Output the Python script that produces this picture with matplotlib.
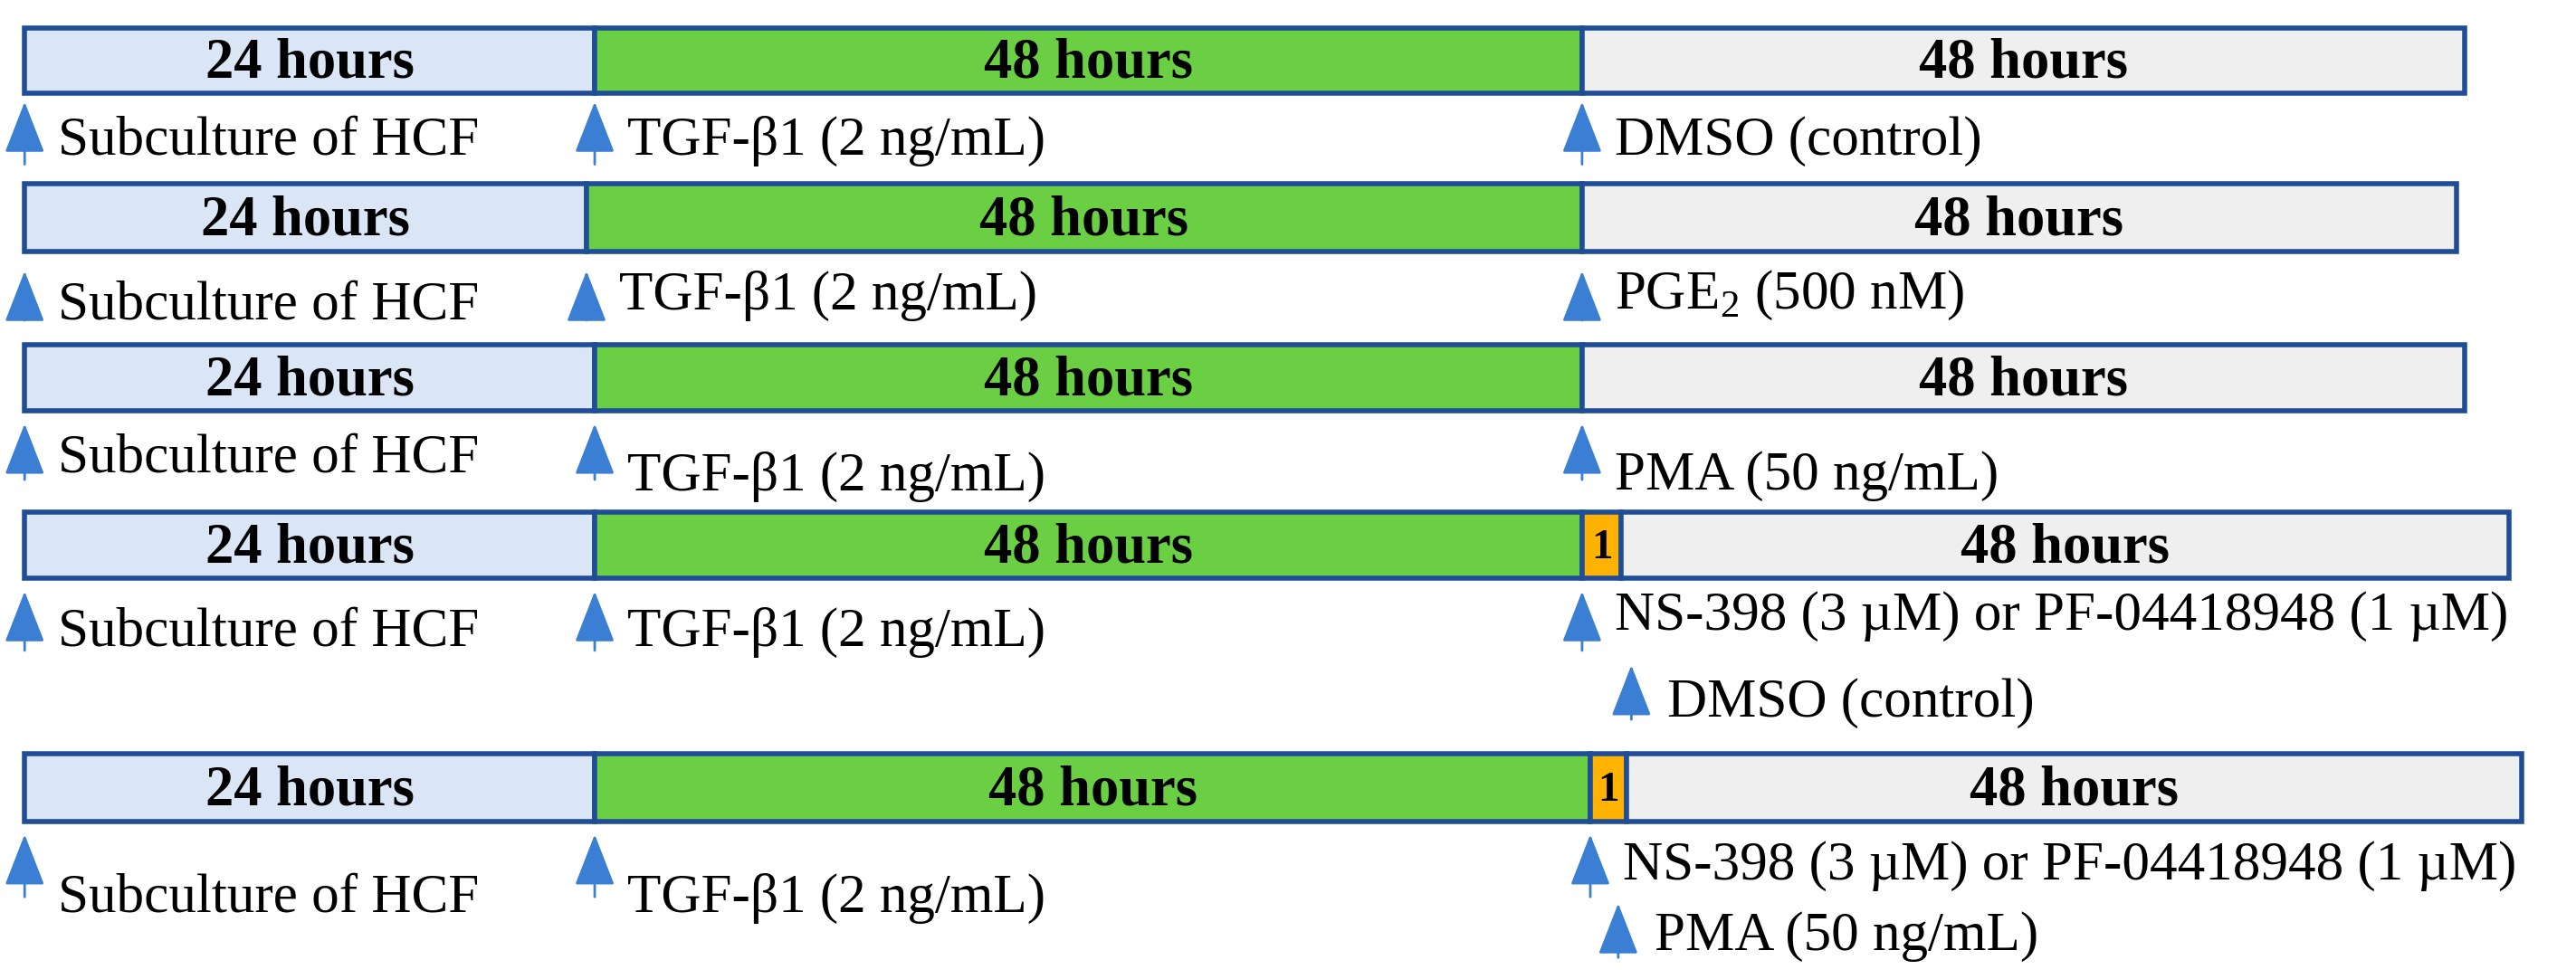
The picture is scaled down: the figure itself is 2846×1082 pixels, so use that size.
import matplotlib
matplotlib.use("Agg")
import matplotlib.pyplot as plt

plt.rcParams['font.family'] = ['Liberation Serif', 'DejaVu Serif']
plt.rcParams['mathtext.fontset'] = 'custom'
plt.rcParams['mathtext.rm'] = 'Liberation Serif'

# ---- data ----
seg_labels = [["24 hours", "48 hours", "48 hours"],
              ["24 hours", "48 hours", "48 hours"],
              ["24 hours", "48 hours", "48 hours"],
              ["24 hours", "48 hours", "1", "48 hours"],
              ["24 hours", "48 hours", "1", "48 hours"]]
seg_kinds = [["pre", "tgf", "trt"], ["pre", "tgf", "trt"], ["pre", "tgf", "trt"],
             ["pre", "tgf", "inh", "trt"], ["pre", "tgf", "inh", "trt"]]
treatments = ["DMSO (control)", "PGE$_2$ (500 nM)", "PMA (50 ng/mL)",
              "NS-398 (3 \u00b5M) or PF-04418948 (1 \u00b5M)",
              "NS-398 (3 \u00b5M) or PF-04418948 (1 \u00b5M)"]
second_treatments = [None, None, None, "DMSO (control)", "PMA (50 ng/mL)"]
first_labels = ["Subculture of HCF", "TGF-\u03b21 (2 ng/mL)"]

# ---- layout (display units, 1568 x 596) ----
edges = [[15, 362, 963, 1500],
         [15, 357, 963, 1495],
         [15, 362, 963, 1500],
         [15, 362, 963, 987, 1527],
         [15, 362, 968, 990, 1535]]
ybox = [(17, 57), (112, 153), (210, 250), (312, 352), (459, 500)]
arrow_y = [(62, 100), (165, 195), (258, 292), (360, 396), (508, 546)]
text_y = [(86, 86, 86), (186, 180, 180), (279, 290, 290), (385, 385, 375), (547, 547, 527)]
arrow2 = [None, None, None, (993, 405, 438, 428), (985, 550, 583, 570)]
colors = {"pre": "#dae5f5", "tgf": "#6acf42", "trt": "#efefef", "inh": "#ffb300"}
edge_c = "#1f4e96"
arrow_c = "#3a7fd4"

fig = plt.figure(figsize=(28.46, 10.82), dpi=100)
ax = fig.add_axes([0, 0, 1, 1])
ax.set_xlim(0, 1568)
ax.set_ylim(596, 0)
ax.axis("off")

def arrow(x, y0, y1):
    ax.annotate("", xy=(x, y0), xytext=(x, y1),
                arrowprops=dict(arrowstyle="-|>,head_length=0.9,head_width=0.35",
                                mutation_scale=40,
                                color=arrow_c, lw=2.0, shrinkA=0, shrinkB=0))

for r in range(5):
    e = edges[r]
    y0, y1 = ybox[r]
    for i, (lab, kind) in enumerate(zip(seg_labels[r], seg_kinds[r])):
        ax.barh((y0 + y1) / 2, e[i + 1] - e[i], height=y1 - y0, left=e[i],
                color=colors[kind], edgecolor=edge_c, linewidth=4)
        ax.text((e[i] + e[i + 1]) / 2, (y0 + y1) / 2 + 2, lab, ha="center", va="center",
                fontsize=45 if kind != "inh" else 34, fontweight="bold")
    ay0, ay1 = arrow_y[r]
    xs = [e[0], e[1], e[2]]
    labs = [first_labels[0], first_labels[1], treatments[r]]
    for k in range(3):
        arrow(xs[k], ay0, ay1)
        ax.text(xs[k] + 20, text_y[r][k], labs[k], ha="left", va="center", fontsize=44)
    if arrow2[r] is not None:
        x, a0, a1, ty = arrow2[r]
        arrow(x, a0, a1)
        ax.text(x + 22, ty, second_treatments[r], ha="left", va="center", fontsize=44)

fig.savefig("out.png", dpi=100, facecolor="white")
